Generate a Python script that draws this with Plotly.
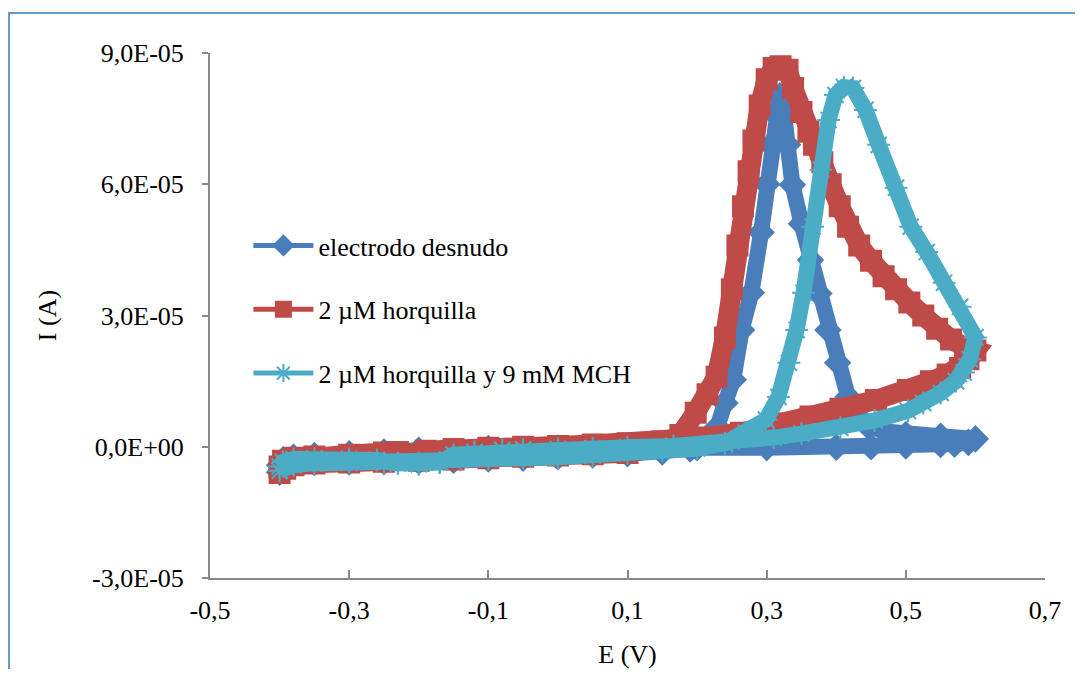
import numpy as np
import plotly.graph_objects as go

# ---------------- data (E in V, I in units of 1e-5 A) ----------------
blue_e = [-0.400, -0.392, -0.380, -0.350, -0.300, -0.250, -0.200, -0.150, -0.100, -0.050,
          0.000, 0.050, 0.100, 0.150, 0.190, 0.210, 0.229, 0.240, 0.252, 0.264,
          0.278, 0.292, 0.300, 0.306, 0.312, 0.319, 0.325, 0.330, 0.337, 0.350,
          0.363, 0.375, 0.388, 0.402, 0.417, 0.428, 0.445, 0.470, 0.500, 0.550, 0.600,
          0.590, 0.570, 0.550, 0.500, 0.450, 0.400, 0.300, 0.200, 0.100, 0.000,
          -0.100, -0.200, -0.250, -0.300, -0.350, -0.380, -0.395, -0.400]
blue_i = [-0.58, -0.48, -0.40, -0.36, -0.35, -0.34, -0.33, -0.31, -0.28, -0.26,
          -0.23, -0.19, -0.16, -0.12, -0.05, 0.15, 0.45, 1.00, 1.53, 2.67,
          3.52, 4.90, 6.00, 6.90, 7.60, 8.02, 7.60, 6.90, 5.99, 5.10,
          4.27, 3.50, 2.67, 1.92, 1.14, 0.73, 0.48, 0.35, 0.28, 0.24, 0.18,
          0.10, 0.06, 0.05, 0.02, 0.00, -0.01, -0.02, -0.02, -0.02, -0.03,
          -0.04, -0.08, -0.12, -0.16, -0.20, -0.24, -0.30, -0.42]

red_e = [-0.400, -0.392, -0.380, -0.350, -0.300, -0.250, -0.200, -0.150, -0.100, -0.050,
         0.000, 0.050, 0.100, 0.147, 0.176, 0.198, 0.215, 0.228, 0.240, 0.250,
         0.258, 0.266, 0.274, 0.281, 0.290, 0.300, 0.310, 0.320, 0.330, 0.338,
         0.350, 0.360, 0.368, 0.380, 0.392, 0.405, 0.417, 0.433, 0.450, 0.468,
         0.486, 0.505, 0.525, 0.545, 0.565, 0.585, 0.600,
         0.590, 0.578, 0.560, 0.536, 0.503, 0.457, 0.406, 0.363, 0.320, 0.263,
         0.205, 0.150, 0.100, 0.050, 0.000, -0.050, -0.100, -0.150, -0.190, -0.210,
         -0.230, -0.250, -0.300, -0.350, -0.380, -0.395, -0.400]
red_i = [-0.60, -0.50, -0.42, -0.38, -0.36, -0.34, -0.32, -0.29, -0.26, -0.23,
         -0.20, -0.17, -0.14, 0.00, 0.27, 0.78, 1.20, 1.60, 2.50, 3.60,
         4.60, 5.50, 6.30, 7.00, 7.80, 8.40, 8.66, 8.70, 8.62, 8.20,
         7.65, 7.20, 6.90, 6.50, 6.00, 5.50, 5.03, 4.60, 4.25, 3.90,
         3.60, 3.30, 3.00, 2.70, 2.45, 2.28, 2.20,
         2.00, 1.80, 1.65, 1.50, 1.30, 1.07, 0.87, 0.69, 0.53, 0.32,
         0.21, 0.12, 0.08, 0.05, 0.02, 0.00, -0.02, -0.05, -0.09, -0.18,
         -0.12, -0.13, -0.18, -0.22, -0.25, -0.32, -0.45]

cyan_e = [-0.400, -0.390, -0.380, -0.350, -0.300, -0.250, -0.200, -0.170, -0.140, -0.100,
          -0.050, 0.000, 0.050, 0.100, 0.150, 0.200, 0.240, 0.270, 0.299, 0.317,
          0.332, 0.343, 0.353, 0.366, 0.378, 0.389, 0.399, 0.411, 0.424, 0.442,
          0.461, 0.486, 0.507, 0.530, 0.555, 0.578, 0.600,
          0.592, 0.583, 0.572, 0.550, 0.525, 0.503, 0.455, 0.406, 0.350, 0.310,
          0.250, 0.166, 0.100, 0.050, 0.000, -0.050, -0.080, -0.120, -0.150, -0.170,
          -0.200, -0.230, -0.260, -0.300, -0.350, -0.380, -0.395, -0.400]
cyan_i = [-0.55, -0.48, -0.42, -0.38, -0.37, -0.37, -0.38, -0.36, -0.30, -0.28,
          -0.26, -0.24, -0.20, -0.14, -0.09, -0.04, 0.08, 0.32, 0.62, 1.14,
          1.92, 2.67, 3.52, 5.03, 6.33, 7.47, 8.04, 8.22, 8.20, 7.70,
          6.90, 5.92, 5.03, 4.45, 3.75, 3.20, 2.50,
          2.00, 1.70, 1.50, 1.23, 1.00, 0.82, 0.60, 0.43, 0.30, 0.21,
          0.12, 0.02, -0.01, -0.03, -0.05, -0.06, -0.07, -0.12, -0.18, -0.36,
          -0.40, -0.38, -0.30, -0.28, -0.27, -0.28, -0.35, -0.45]

series_names = ["electrodo desnudo", "2 \u00b5M horquilla", "2 \u00b5M horquilla y 9 mM MCH"]

x_tickvals = [-0.5, -0.3, -0.1, 0.1, 0.3, 0.5, 0.7]
x_ticktext = ["-0,5", "-0,3", "-0,1", "0,1", "0,3", "0,5", "0,7"]
y_tickvals = [-3e-5, 0.0, 3e-5, 6e-5, 9e-5]
y_ticktext = ["-3,0E-05", "0,0E+00", "3,0E-05", "6,0E-05", "9,0E-05"]

# ---------------- styling ----------------
BLUE = "#4A7EBB"
RED = "#BE4B48"
CYAN = "#4BACC6"
FONT = "Liberation Serif"
FS = 26

fig = go.Figure()

styles = [
    (blue_e, blue_i, BLUE, "diamond", 16, 19),
    (red_e, red_i, RED, "square", 20, 20),
    (cyan_e, cyan_i, CYAN, "asterisk-open", 16, 19),
]

for name, (ex, iy, col, sym, lw, ms) in zip(series_names, styles):
    fig.add_trace(go.Scatter(
        x=ex, y=np.array(iy) * 1e-5, mode="lines+markers",
        line=dict(color=col, width=lw),
        marker=dict(symbol=sym, size=ms, color=col, line=dict(color=col, width=2)),
        showlegend=False, hoverinfo="skip",
    ))

# legend-only entries
for k, (name, (_, _, col, sym, _, _)) in enumerate(zip(series_names, styles)):
    fig.add_trace(go.Scatter(
        x=[None], y=[None], mode="lines+markers", name=name,
        legendgroup=f"g{k}",
        line=dict(color=col, width=5),
        marker=dict(symbol=sym, size=15, color=col, line=dict(color=col, width=2)),
    ))

axis_common = dict(
    showgrid=False, zeroline=False, showline=True, linecolor="#898989", linewidth=2,
    tickcolor="#898989", tickwidth=2, automargin=False,
    tickfont=dict(family=FONT, size=FS, color="black"),
    title_font=dict(family=FONT, size=FS, color="black"),
)

# page body adds an 8px offset; size the figure so the plot area lands where the reference has it
W, H = 1067, 661
fig.update_layout(
    width=W, height=H,
    margin=dict(l=202, r=30, t=45, b=91),
    paper_bgcolor="white", plot_bgcolor="white",
    font=dict(family=FONT, size=FS, color="black"),
    xaxis=dict(range=[-0.5, 0.7], tickmode="array", tickvals=x_tickvals, ticktext=x_ticktext,
               ticks="inside", ticklen=8, ticklabelstandoff=8,
               title=dict(text="E (V)", standoff=30), **axis_common),
    yaxis=dict(range=[-3e-5, 9e-5], tickmode="array", tickvals=y_tickvals, ticktext=y_ticktext,
               ticks="outside", ticklen=6, ticklabelstandoff=13,
               title=dict(text="I (A)", standoff=28), **axis_common),
    legend=dict(x=0.046, y=0.678, xanchor="left", yanchor="top",
                bgcolor="rgba(0,0,0,0)", itemwidth=60, tracegroupgap=27,
                font=dict(family=FONT, size=FS, color="black")),
    shapes=[dict(type="rect", xref="paper", yref="paper",
                 x0=-0.2407, x1=1.06, y0=-0.21, y1=1.0762,
                 line=dict(color="#6699CC", width=2), fillcolor="rgba(0,0,0,0)",
                 layer="below")],
)

fig.write_html("out.html")
